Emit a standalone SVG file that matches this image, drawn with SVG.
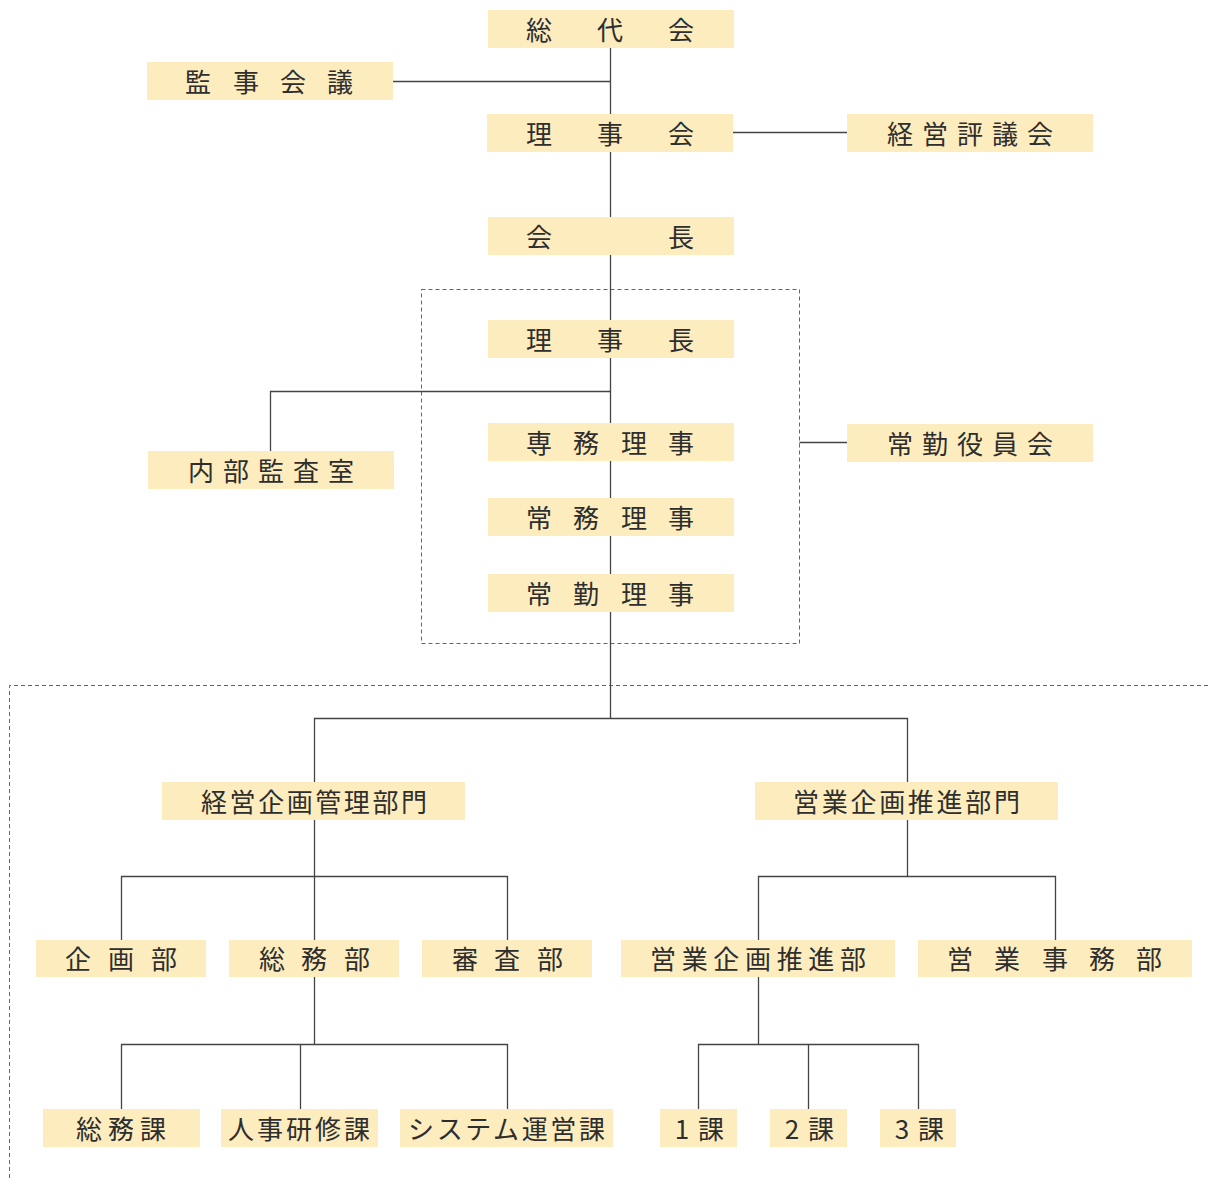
<svg xmlns="http://www.w3.org/2000/svg" width="1210" height="1178" viewBox="0 0 1210 1178">
<style>
.box{fill:#fdecbe}
.t{font-family:"Noto Sans CJK JP","Noto Sans",sans-serif;font-size:26px;font-weight:400;fill:#2e2e2e;text-anchor:middle}
.ts{font-family:"Noto Sans CJK JP","Noto Sans",sans-serif;font-size:26px;font-weight:400;fill:#2e2e2e}
.c{stroke:#444;stroke-width:1.3;fill:none}
.d{stroke:#666;stroke-width:1;fill:none;stroke-dasharray:4 3}
</style>
<rect width="1210" height="1178" fill="#ffffff"/>
<g id="groups">
<rect class="d" x="421.5" y="289.5" width="378" height="354"/>
<path class="d" d="M9.5 1178 V685.5 H1210"/>
</g>
<g id="connectors">
<path class="c" d="M610.5 48 V718"/>
<path class="c" d="M393 81.5 H610.5"/>
<path class="c" d="M733 132.5 H847"/>
<path class="c" d="M270.5 451 V391.5 H610.5"/>
<path class="c" d="M799.5 442.5 H847"/>
<path class="c" d="M314.5 782 V718.5 H907.5 V782"/>
<path class="c" d="M314.5 820 V940"/>
<path class="c" d="M121.5 940 V876.5 H507.5 V940"/>
<path class="c" d="M314.5 977 V1044.5"/>
<path class="c" d="M121.5 1109 V1044.5 H507.5 V1109"/>
<path class="c" d="M300.5 1044.5 V1109"/>
<path class="c" d="M907.5 820 V876.5"/>
<path class="c" d="M758.5 940 V876.5 H1055.5 V940"/>
<path class="c" d="M758.5 977 V1044.5"/>
<path class="c" d="M698.5 1109 V1044.5 H918.5 V1109"/>
<path class="c" d="M808.5 1044.5 V1109"/>
</g>
<g id="n-soudaikai"><rect class="box" x="488" y="10" width="246" height="38"/><text class="t" x="539 610 681" y="40">総代会</text></g>
<g id="n-kanjikaigi"><rect class="box" x="147" y="62" width="246" height="38"/><text class="t" x="198 246 293 340" y="92">監事会議</text></g>
<g id="n-rijikai"><rect class="box" x="487" y="114" width="246" height="38"/><text class="t" x="539 610 681" y="144">理事会</text></g>
<g id="n-keieihyogikai"><rect class="box" x="847" y="114" width="246" height="38"/><text class="t" x="900 935 970 1005 1040" y="144">経営評議会</text></g>
<g id="n-kaicho"><rect class="box" x="488" y="217" width="246" height="38"/><text class="t" x="539 681" y="247">会長</text></g>
<g id="n-rijicho"><rect class="box" x="488" y="320" width="246" height="38"/><text class="t" x="539 610 681" y="350">理事長</text></g>
<g id="n-senmu"><rect class="box" x="488" y="423" width="246" height="38"/><text class="t" x="539 586 634 681" y="453">専務理事</text></g>
<g id="n-naibu"><rect class="box" x="148" y="451" width="246" height="38"/><text class="t" x="201 236 271 306 341" y="481">内部監査室</text></g>
<g id="n-jokinyakuin"><rect class="box" x="847" y="424" width="246" height="38"/><text class="t" x="900 935 970 1005 1040" y="454">常勤役員会</text></g>
<g id="n-jomu"><rect class="box" x="488" y="498" width="246" height="38"/><text class="t" x="539 586 634 681" y="528">常務理事</text></g>
<g id="n-jokin"><rect class="box" x="488" y="574" width="246" height="38"/><text class="t" x="539 586 634 681" y="604">常勤理事</text></g>
<g id="n-keikaku"><rect class="box" x="162" y="782" width="303" height="38"/><text class="ts" x="201" y="812" textLength="226" lengthAdjust="spacing">経営企画管理部門</text></g>
<g id="n-eigyobumon"><rect class="box" x="755" y="782" width="303" height="38"/><text class="ts" x="793" y="812" textLength="227" lengthAdjust="spacing">営業企画推進部門</text></g>
<g id="n-kikakubu"><rect class="box" x="36" y="940" width="170" height="37"/><text class="t" x="78 121 164" y="969">企画部</text></g>
<g id="n-somubu"><rect class="box" x="229" y="940" width="170" height="37"/><text class="t" x="272 314 357" y="969">総務部</text></g>
<g id="n-shinsabu"><rect class="box" x="422" y="940" width="170" height="37"/><text class="t" x="465 507 550" y="969">審査部</text></g>
<g id="n-eigyokikaku"><rect class="box" x="621" y="940" width="274" height="37"/><text class="ts" x="650" y="969" textLength="216" lengthAdjust="spacing">営業企画推進部</text></g>
<g id="n-eigyojimu"><rect class="box" x="918" y="940" width="274" height="37"/><text class="t" x="960 1007 1055 1102 1149" y="969">営業事務部</text></g>
<g id="n-somuka"><rect class="box" x="43" y="1109" width="157" height="38"/><text class="ts" x="76" y="1139" textLength="90" lengthAdjust="spacing">総務課</text></g>
<g id="n-jinji"><rect class="box" x="221" y="1109" width="157" height="38"/><text class="ts" x="228" y="1139" textLength="142" lengthAdjust="spacing">人事研修課</text></g>
<g id="n-system"><rect class="box" x="400" y="1109" width="213" height="38"/><text class="ts" x="408" y="1139" textLength="197" lengthAdjust="spacing">システム運営課</text></g>
<g id="n-1ka"><rect class="box" x="660" y="1109" width="77" height="38"/><text class="t" x="682 711" y="1139">1課</text></g>
<g id="n-2ka"><rect class="box" x="770" y="1109" width="77" height="38"/><text class="t" x="792 821" y="1139">2課</text></g>
<g id="n-3ka"><rect class="box" x="880" y="1109" width="76" height="38"/><text class="t" x="902 931" y="1139">3課</text></g>
</svg>
